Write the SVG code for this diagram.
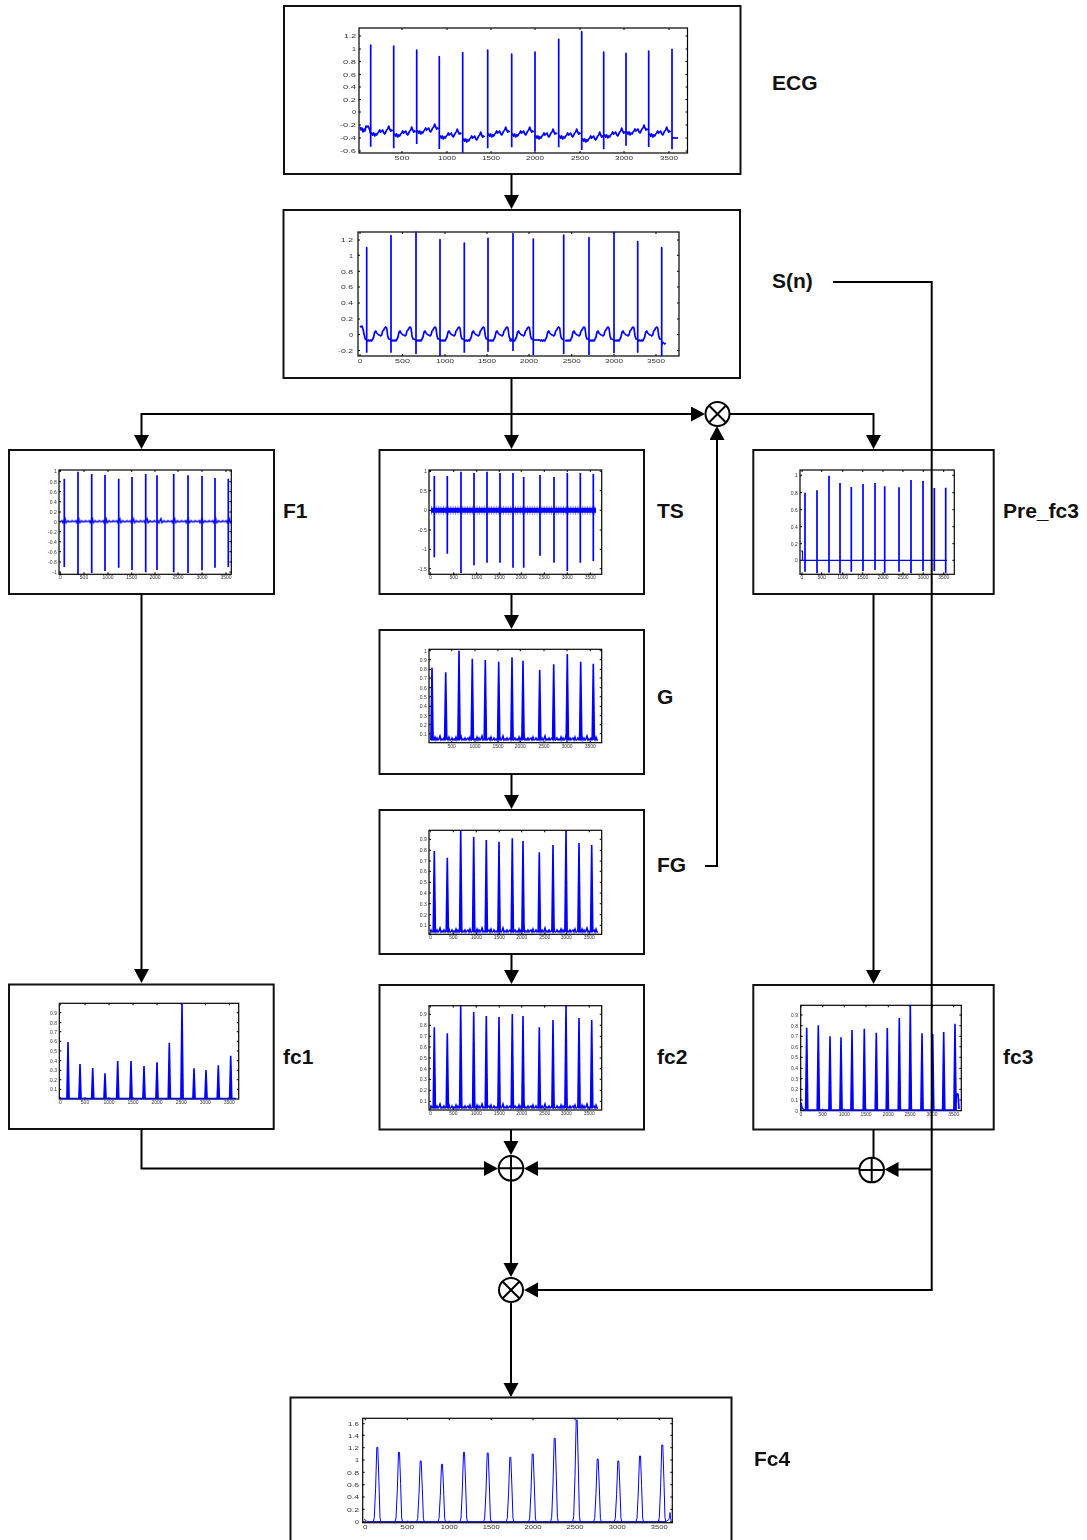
<svg xmlns="http://www.w3.org/2000/svg" width="1087" height="1540" viewBox="0 0 1087 1540">
<style>
text{font-family:"Liberation Sans",Arial,sans-serif}
.box{fill:#fff;stroke:#111;stroke-width:2}
.lab{font-size:21px;font-weight:bold;fill:#111}
.fr{fill:#fff;stroke:#000;stroke-width:1.2}
.tk{fill:none;stroke:#000;stroke-width:1}
.plot text{font-size:5px;fill:#333}
.big text{font-size:6px}
.y{text-anchor:end}
.x{text-anchor:middle}
.tr{fill:none;stroke:#00f;stroke-width:1.7;stroke-linejoin:round}
.th{stroke-width:.9}
.blue{fill:#00f}
.con{fill:none;stroke:#000;stroke-width:2}
.arr{marker-end:url(#ah)}
.sym{fill:#fff;stroke:#000;stroke-width:2}
</style>
<defs>
<filter id="soft" x="-5%" y="-5%" width="110%" height="110%"><feGaussianBlur stdDeviation="0.35"/></filter>
<marker id="ah" markerUnits="userSpaceOnUse" markerWidth="15" markerHeight="16" refX="10" refY="7.5" orient="auto"><path d="M0 0L14 7.5L0 15z" fill="#000"/></marker>
<path id="w1" d="M0 0l1-1 1 2 1-2 1 3 1-2 1 1 1-2 1-1 1-2 1 2 1-1 1-1 1 3 1 1 1-2 1-2 1-1 1-3 1 3 1 2 1-1 1 1"/>
<path id="w2" d="M0 0l1 1 1-1 1 1 1-1 1 1 1-2 1-2 1-5 1-1 1 2 1 1 1 1 1 0 1 1 1-1 1-4 1-1 1-2 1-1 1 1 1 8 1 3 1 0 1 1"/>
<path id="s" class="blue" d="M-1.900 0L-.8-1H.8L1.900 0z"/>
<path id="pk" fill="none" stroke="#00f" stroke-width="1" vector-effect="non-scaling-stroke" d="M-4 0L-3-.05-1.700-.45-.5-1H.5L1.600-.55 2.700-.05 3.500 0"/>
<pattern id="pF" patternUnits="userSpaceOnUse" width="13.700" height="10"><path d="M0 5l2-1 1 2 2-4 1 4 2-2 1 1 2 0 1-1 1.700 1" fill="none" stroke="#00f" stroke-width="1.500"/></pattern>
<pattern id="pN" patternUnits="userSpaceOnUse" width="21" height="8"><path d="M0 6l1-2 1 2 1-1 1 1 1-3 1 3 1-2 1 2 1-1 1-3 1 4 1-1 1 1 1-2 1 2 1-1 1-1 1 2 1-3 1 3 1 0" fill="none" stroke="#00f" stroke-width="1.500"/></pattern>
</defs>
<rect width="1087" height="1540" fill="#fff"/>

<g id="node-ecg">
<rect class="box" x="284" y="6" width="456.500" height="168"/>
<g class="plot big" filter="url(#soft)">
<rect class="fr" x="359" y="28" width="328.500" height="125"/>
<path class="tk" d="M359 36h2m324.500 0h2M359 49h2m324.500 0h2M359 61.500h2m324.500 0h2M359 74.500h2m324.500 0h2M359 87h2m324.500 0h2M359 99.500h2m324.500 0h2M359 112h2m324.500 0h2M359 125h2m324.500 0h2M359 138h2m324.500 0h2M359 151h2m324.500 0h2M402 28v2m0 121v2M447 28v2m0 121v2M491 28v2m0 121v2M535 28v2m0 121v2M580 28v2m0 121v2M624 28v2m0 121v2M669 28v2m0 121v2"/>
<path class="tr" d="M370.700 134V45V146.700M393.700 134V46V148.300M416.700 132V50V144M439.300 137V56.700V149M462.700 139V52.700V152.700M487.700 135V50V148.300M511.700 135V54V147.300M535 137V52V151M558.700 137V39.300V147.300M581.700 140V31.700V150M603.700 136V52V149.300M626 133V53.300V145.700M648.700 135V51V147M672 138V49.300V149.300"/>
<g class="tr">
<path d="M360 127l1 3 1-2 1 4 1-3 1 2 1-5 1 1 1-1 1 2 1 3 .700 3"/>
<use href="#w1" x="370.700" y="134"/><use href="#w1" x="393.700" y="135"/><use href="#w1" x="416.700" y="132"/><use href="#w1" x="439.300" y="137"/><use href="#w1" x="462.700" y="140"/><use href="#w1" x="487.700" y="135"/><use href="#w1" x="511.700" y="135"/><use href="#w1" x="535" y="137"/><use href="#w1" x="558.700" y="137"/><use href="#w1" x="581.700" y="140"/><use href="#w1" x="603.700" y="136"/><use href="#w1" x="626" y="133"/><use href="#w1" x="648.700" y="135"/>
<path d="M672 138H678"/>
</g>
<g class="y">
<text x="356" y="38.200" textLength="12" lengthAdjust="spacingAndGlyphs">1.2</text>
<text x="356" y="51.200" textLength="4" lengthAdjust="spacingAndGlyphs">1</text>
<text x="356" y="63.700" textLength="13" lengthAdjust="spacingAndGlyphs">0.8</text>
<text x="356" y="76.700" textLength="13" lengthAdjust="spacingAndGlyphs">0.6</text>
<text x="356" y="89.200" textLength="13" lengthAdjust="spacingAndGlyphs">0.4</text>
<text x="356" y="101.700" textLength="13" lengthAdjust="spacingAndGlyphs">0.2</text>
<text x="356" y="114.200" textLength="4" lengthAdjust="spacingAndGlyphs">0</text>
<text x="356" y="127.200" textLength="16" lengthAdjust="spacingAndGlyphs">-0.2</text>
<text x="356" y="140.200" textLength="16" lengthAdjust="spacingAndGlyphs">-0.4</text>
<text x="356" y="153.200" textLength="16" lengthAdjust="spacingAndGlyphs">-0.6</text>
</g>
<g class="x">
<text x="402" y="159.500" textLength="15" lengthAdjust="spacingAndGlyphs">500</text>
<text x="447" y="159.500" textLength="18" lengthAdjust="spacingAndGlyphs">1000</text>
<text x="491" y="159.500" textLength="18" lengthAdjust="spacingAndGlyphs">1500</text>
<text x="535" y="159.500" textLength="18" lengthAdjust="spacingAndGlyphs">2000</text>
<text x="580" y="159.500" textLength="18" lengthAdjust="spacingAndGlyphs">2500</text>
<text x="624" y="159.500" textLength="18" lengthAdjust="spacingAndGlyphs">3000</text>
<text x="669" y="159.500" textLength="18" lengthAdjust="spacingAndGlyphs">3500</text>
</g>
</g>
<text class="lab" x="772" y="90">ECG</text>
</g>

<g id="node-sn">
<rect class="box" x="283.500" y="210" width="456.500" height="168"/>
<g class="plot big" filter="url(#soft)">
<rect class="fr" x="358" y="232" width="321" height="124"/>
<path class="tk" d="M358 240h2m317 0h2M358 255.300h2m317 0h2M358 271.300h2m317 0h2M358 287h2m317 0h2M358 303h2m317 0h2M358 319h2m317 0h2M358 334.500h2m317 0h2M358 350.500h2m317 0h2M360 232v2m0 120v2M402.500 232v2m0 120v2M445 232v2m0 120v2M487 232v2m0 120v2M529 232v2m0 120v2M571.700 232v2m0 120v2M614 232v2m0 120v2M656 232v2m0 120v2"/>
<path class="tr" d="M366.700 340V247.700V352.700M391 340V235.700V352.700M416 340V232.300V354M440 340V239.700V356M464.300 340V243V352.700M488 340V238.300V351.700M513 340V233.700V351M533.300 340V239V355M563.700 340V235V354M589 340V237.700V355M614 340V232.300V353.300M637.700 340V241.700V352.700M661.700 340V247.700V356"/>
<g class="tr">
<path d="M360 326l1 1 1-1 1 3 1 5 1 4 .700 2"/>
<use href="#w2" x="366.700" y="340"/><use href="#w2" x="391" y="340"/><use href="#w2" x="416" y="340"/><use href="#w2" x="440" y="340"/><use href="#w2" x="464.300" y="340"/><use href="#w2" x="488" y="340"/><use href="#w2" x="509.500" y="340"/>
<path d="M533.300 340h7"/>
<use href="#w2" x="539.700" y="340"/><use href="#w2" x="565" y="340"/><use href="#w2" x="589" y="340"/><use href="#w2" x="614" y="340"/><use href="#w2" x="637.700" y="340"/>
<path d="M661.700 345l1-3 2 2 1-1"/>
</g>
<g class="y">
<text x="353" y="242.200" textLength="12" lengthAdjust="spacingAndGlyphs">1.2</text>
<text x="353" y="257.500" textLength="4" lengthAdjust="spacingAndGlyphs">1</text>
<text x="353" y="273.500" textLength="12" lengthAdjust="spacingAndGlyphs">0.8</text>
<text x="353" y="289.200" textLength="12" lengthAdjust="spacingAndGlyphs">0.6</text>
<text x="353" y="305.200" textLength="12" lengthAdjust="spacingAndGlyphs">0.4</text>
<text x="353" y="321.200" textLength="12" lengthAdjust="spacingAndGlyphs">0.2</text>
<text x="353" y="336.700" textLength="4" lengthAdjust="spacingAndGlyphs">0</text>
<text x="353" y="352.700" textLength="15" lengthAdjust="spacingAndGlyphs">-0.2</text>
</g>
<g class="x">
<text x="360" y="362.500" textLength="4.500" lengthAdjust="spacingAndGlyphs">0</text>
<text x="402.500" y="362.500" textLength="15" lengthAdjust="spacingAndGlyphs">500</text>
<text x="445" y="362.500" textLength="18" lengthAdjust="spacingAndGlyphs">1000</text>
<text x="487" y="362.500" textLength="18" lengthAdjust="spacingAndGlyphs">1500</text>
<text x="529" y="362.500" textLength="18" lengthAdjust="spacingAndGlyphs">2000</text>
<text x="571.700" y="362.500" textLength="18" lengthAdjust="spacingAndGlyphs">2500</text>
<text x="614" y="362.500" textLength="18" lengthAdjust="spacingAndGlyphs">3000</text>
<text x="656" y="362.500" textLength="18" lengthAdjust="spacingAndGlyphs">3500</text>
</g>
</g>
<text class="lab" x="772" y="288">S(n)</text>
</g>

<g id="node-f1">
<rect class="box" x="9" y="450" width="265" height="144"/>
<g class="plot" filter="url(#soft)">
<rect class="fr" x="59" y="470" width="172.300" height="104.300"/>
<path class="tk" d="M59 471h2m168.300 0h2M59 481.700h2m168.300 0h2M59 491.700h2m168.300 0h2M59 501.700h2m168.300 0h2M59 512h2m168.300 0h2M59 521.700h2m168.300 0h2M59 531.700h2m168.300 0h2M59 541.700h2m168.300 0h2M59 551.700h2m168.300 0h2M59 562h2m168.300 0h2M59 572h2m168.300 0h2M60.300 470v2m0 100.300v2M84 470v2m0 100.300v2M108 470v2m0 100.300v2M131.700 470v2m0 100.300v2M155 470v2m0 100.300v2M178 470v2m0 100.300v2M202 470v2m0 100.300v2M226 470v2m0 100.300v2"/>
<rect transform="translate(60 516.700)" width="171" height="10" fill="url(#pF)"/>
<path class="tr" d="M64.300 478.700V567M78 471.700V574.300M91.700 474V573M105 475V571M118.700 478.700V567.700M132 477V570M145.700 474V572.300M157 475.300V570M173.700 474V572.300M188 475.300V573M202 476V570.300M215 478V567.700M228.300 478.700V567"/>
<g class="y">
<text x="56.700" y="472.800">1</text><text x="56.700" y="483.500">0.8</text><text x="56.700" y="493.500">0.6</text><text x="56.700" y="503.500">0.4</text><text x="56.700" y="513.800">0.2</text><text x="56.700" y="523.500">0</text><text x="56.700" y="533.500">-0.2</text><text x="56.700" y="543.500">-0.4</text><text x="56.700" y="553.500">-0.6</text><text x="56.700" y="563.800">-0.8</text><text x="56.700" y="573.800">-1</text>
</g>
<g class="x">
<text x="60.300" y="579">0</text><text x="84" y="579">500</text><text x="108" y="579">1000</text><text x="131.700" y="579">1500</text><text x="155" y="579">2000</text><text x="178" y="579">2500</text><text x="202" y="579">3000</text><text x="226" y="579">3500</text>
</g>
</g>
<text class="lab" x="283" y="518">F1</text>
</g>

<g id="node-ts">
<rect class="box" x="379.500" y="450" width="264.500" height="144"/>
<g class="plot" filter="url(#soft)">
<rect class="fr" x="429" y="470" width="172.700" height="104.300"/>
<path class="tk" d="M429 471.300h2m168.700 0h2M429 490.700h2m168.700 0h2M429 510.300h2m168.700 0h2M429 530h2m168.700 0h2M429 549.300h2m168.700 0h2M429 568.700h2m168.700 0h2M430.300 470v2m0 100.300v2M453.700 470v2m0 100.300v2M476.700 470v2m0 100.300v2M499.300 470v2m0 100.300v2M521.300 470v2m0 100.300v2M544.300 470v2m0 100.300v2M567.300 470v2m0 100.300v2M590.300 470v2m0 100.300v2"/>
<path d="M431 510.300H596" fill="none" stroke="#00f" stroke-width="5"/>
<path d="M431 510.300H596" fill="none" stroke="#00f" stroke-width="9" stroke-dasharray="1 1.400" opacity=".45"/>
<path class="tr" d="M434.300 476V557.300M447.300 476V553.700M461 471.700V573M474 473V565.300M487 471.700V562.700M500 473V562.700M513 473V567.700M523.700 477V567.700M540 475V555.700M554 477V562.700M567.300 473V571M580.300 473V562.700M593.300 474V561"/>
<g class="y">
<text x="426.700" y="473.100">1</text><text x="426.700" y="492.500">0.5</text><text x="426.700" y="512.100">0</text><text x="426.700" y="531.800">-0.5</text><text x="426.700" y="551.100">-1</text><text x="426.700" y="570.500">-1.5</text>
</g>
<g class="x">
<text x="430.300" y="579">0</text><text x="453.700" y="579">500</text><text x="476.700" y="579">1000</text><text x="499.300" y="579">1500</text><text x="521.300" y="579">2000</text><text x="544.300" y="579">2500</text><text x="567.300" y="579">3000</text><text x="590.300" y="579">3500</text>
</g>
</g>
<text class="lab" x="657" y="518">TS</text>
</g>

<g id="node-pre-fc3">
<rect class="box" x="753.300" y="450" width="240.400" height="144"/>
<g class="plot" filter="url(#soft)">
<rect class="fr" x="800" y="470" width="154.300" height="104.300"/>
<path class="tk" d="M800 475.300h2m150.300 0h2M800 492.700h2m150.300 0h2M800 509.700h2m150.300 0h2M800 526.700h2m150.300 0h2M800 543.700h2m150.300 0h2M800 560.300h2m150.300 0h2M802 470v2m0 100.300v2M821.700 470v2m0 100.300v2M842.700 470v2m0 100.300v2M862.700 470v2m0 100.300v2M883 470v2m0 100.300v2M903 470v2m0 100.300v2M923.300 470v2m0 100.300v2M943.700 470v2m0 100.300v2"/>
<path class="tr" stroke-width="1.200" style="stroke-width:1.200" d="M801 551H802.500V560.300H947"/>
<path class="tr" d="M805 492.700V571.700M817 490.300V573.300M829 475.700V572.700M840 483V573.300M851.300 487V571.700M863 484V571M875 483V570M884.700 486.300V572.700M899 487.300V571.700M911 480V573.300M923 481V571M934.300 488V571M945.700 487.700V573.300"/>
<g class="y">
<text x="797.700" y="477.100">1</text><text x="797.700" y="494.500">0.8</text><text x="797.700" y="511.500">0.6</text><text x="797.700" y="528.500">0.4</text><text x="797.700" y="545.500">0.2</text><text x="797.700" y="562.100">0</text>
</g>
<g class="x">
<text x="802" y="579">0</text><text x="821.700" y="579">500</text><text x="842.700" y="579">1000</text><text x="862.700" y="579">1500</text><text x="883" y="579">2000</text><text x="903" y="579">2500</text><text x="923.300" y="579">3000</text><text x="943.700" y="579">3500</text>
</g>
</g>
<text class="lab" x="1003" y="518">Pre_fc3</text>
</g>

<g id="node-g">
<rect class="box" x="379.500" y="630" width="264.500" height="144"/>
<g class="plot" filter="url(#soft)">
<rect class="fr" x="429" y="649.300" width="172.700" height="93.400"/>
<path class="tk" d="M429 650.700h2m168.700 0h2M429 659.700h2m168.700 0h2M429 669.300h2m168.700 0h2M429 678h2m168.700 0h2M429 687.700h2m168.700 0h2M429 696.700h2m168.700 0h2M429 706.300h2m168.700 0h2M429 715.700h2m168.700 0h2M429 724.700h2m168.700 0h2M429 733.700h2m168.700 0h2M451.700 649.300v2m0 89.400v2M475 649.300v2m0 89.400v2M498 649.300v2m0 89.400v2M520.300 649.300v2m0 89.400v2M544 649.300v2m0 89.400v2M567 649.300v2m0 89.400v2M590.300 649.300v2m0 89.400v2"/>
<rect transform="translate(430 734)" width="168" height="8" fill="url(#pN)"/>
<use href="#s" transform="matrix(1 0 0 71.800 432 739.500)"/><use href="#s" transform="matrix(1 0 0 67.200 445.700 739.500)"/><use href="#s" transform="matrix(1 0 0 88.800 459 739.500)"/><use href="#s" transform="matrix(1 0 0 80.800 472.300 739.500)"/><use href="#s" transform="matrix(1 0 0 79.500 485.300 739.500)"/><use href="#s" transform="matrix(1 0 0 77.800 498.700 739.500)"/><use href="#s" transform="matrix(1 0 0 82.200 512 739.500)"/><use href="#s" transform="matrix(1 0 0 78.800 523 739.500)"/><use href="#s" transform="matrix(1 0 0 69.500 539.700 739.500)"/><use href="#s" transform="matrix(1 0 0 75.200 553.700 739.500)"/><use href="#s" transform="matrix(1 0 0 85.500 567.300 739.500)"/><use href="#s" transform="matrix(1 0 0 77.800 580.700 739.500)"/><use href="#s" transform="matrix(1 0 0 75.800 593.300 739.500)"/>
<g class="y">
<text x="426.700" y="652.500">1</text><text x="426.700" y="661.500">0.9</text><text x="426.700" y="671.100">0.8</text><text x="426.700" y="679.800">0.7</text><text x="426.700" y="689.500">0.6</text><text x="426.700" y="698.500">0.5</text><text x="426.700" y="708.100">0.4</text><text x="426.700" y="717.500">0.3</text><text x="426.700" y="726.500">0.2</text><text x="426.700" y="735.500">0.1</text>
</g>
<g class="x">
<text x="451.700" y="747.800">500</text><text x="475" y="747.800">1000</text><text x="498" y="747.800">1500</text><text x="520.300" y="747.800">2000</text><text x="544" y="747.800">2500</text><text x="567" y="747.800">3000</text><text x="590.300" y="747.800">3500</text>
</g>
</g>
<text class="lab" x="657" y="704">G</text>
</g>

<g id="node-fg">
<rect class="box" x="379.500" y="810" width="264.500" height="144"/>
<g class="plot" filter="url(#soft)">
<rect class="fr" x="429" y="830.300" width="172.700" height="104"/>
<path class="tk" d="M429 839.300h2m168.700 0h2M429 850.300h2m168.700 0h2M429 861h2m168.700 0h2M429 871.300h2m168.700 0h2M429 882.300h2m168.700 0h2M429 893h2m168.700 0h2M429 903.700h2m168.700 0h2M429 914.700h2m168.700 0h2M429 925.300h2m168.700 0h2M430.300 830.300v2m0 100v2M453.300 830.300v2m0 100v2M476.300 830.300v2m0 100v2M499.300 830.300v2m0 100v2M521.700 830.300v2m0 100v2M544.700 830.300v2m0 100v2M566.300 830.300v2m0 100v2M589.300 830.300v2m0 100v2"/>
<rect transform="translate(430 926)" width="168" height="8" fill="url(#pN)"/>
<use href="#s" transform="matrix(1 0 0 81 434.300 932)"/><use href="#s" transform="matrix(1 0 0 74.300 447.300 932)"/><use href="#s" transform="matrix(1 0 0 101.700 460.700 932)"/><use href="#s" transform="matrix(1 0 0 95 473.700 932)"/><use href="#s" transform="matrix(1 0 0 92 486.300 932)"/><use href="#s" transform="matrix(1 0 0 90.300 499 932)"/><use href="#s" transform="matrix(1 0 0 93.700 512.300 932)"/><use href="#s" transform="matrix(1 0 0 91 523 932)"/><use href="#s" transform="matrix(1 0 0 79.700 539.300 932)"/><use href="#s" transform="matrix(1 0 0 87 553 932)"/><use href="#s" transform="matrix(1 0 0 101 566 932)"/><use href="#s" transform="matrix(1 0 0 89 579 932)"/><use href="#s" transform="matrix(1 0 0 87 591.700 932)"/>
<g class="y">
<text x="426.700" y="841.100">0.9</text><text x="426.700" y="852.100">0.8</text><text x="426.700" y="862.800">0.7</text><text x="426.700" y="873.100">0.6</text><text x="426.700" y="884.100">0.5</text><text x="426.700" y="894.800">0.4</text><text x="426.700" y="905.500">0.3</text><text x="426.700" y="916.500">0.2</text><text x="426.700" y="927.100">0.1</text>
</g>
<g class="x">
<text x="430.300" y="939">0</text><text x="453.300" y="939">500</text><text x="476.300" y="939">1000</text><text x="499.300" y="939">1500</text><text x="521.700" y="939">2000</text><text x="544.700" y="939">2500</text><text x="566.300" y="939">3000</text><text x="589.300" y="939">3500</text>
</g>
</g>
<text class="lab" x="657" y="872">FG</text>
</g>

<g id="node-fc1">
<rect class="box" x="9" y="984.500" width="264.700" height="144.500"/>
<g class="plot" filter="url(#soft)">
<rect class="fr" x="59.300" y="1003.300" width="179.400" height="95.700"/>
<path class="tk" d="M59.300 1012.700h2m175.400 0h2M59.300 1022.700h2m175.400 0h2M59.300 1031.700h2m175.400 0h2M59.300 1041.300h2m175.400 0h2M59.300 1051h2m175.400 0h2M59.300 1060.700h2m175.400 0h2M59.300 1070.300h2m175.400 0h2M59.300 1079.700h2m175.400 0h2M59.300 1089.300h2m175.400 0h2M60.300 1003.300v2m0 91.700v2M85 1003.300v2m0 91.700v2M109 1003.300v2m0 91.700v2M133 1003.300v2m0 91.700v2M157 1003.300v2m0 91.700v2M181.300 1003.300v2m0 91.700v2M205.300 1003.300v2m0 91.700v2M229.300 1003.300v2m0 91.700v2"/>
<path class="tr" d="M60 1098.500H236"/>
<use href="#s" transform="matrix(1 0 0 57 68 1099)"/><use href="#s" transform="matrix(1 0 0 35 80 1099)"/><use href="#s" transform="matrix(1 0 0 31 92.700 1099)"/><use href="#s" transform="matrix(1 0 0 25.700 105 1099)"/><use href="#s" transform="matrix(1 0 0 38 117.700 1099)"/><use href="#s" transform="matrix(1 0 0 38 131 1099)"/><use href="#s" transform="matrix(1 0 0 33 144 1099)"/><use href="#s" transform="matrix(1 0 0 36.700 157 1099)"/><use href="#s" transform="matrix(1 0 0 56.300 169.300 1099)"/><use href="#s" transform="matrix(1 0 0 95.700 182 1099)"/><use href="#s" transform="matrix(1 0 0 30.700 194 1099)"/><use href="#s" transform="matrix(1 0 0 29 206 1099)"/><use href="#s" transform="matrix(1 0 0 33.700 218.300 1099)"/><use href="#s" transform="matrix(1 0 0 43.300 230.700 1099)"/>
<g class="y">
<text x="57" y="1014.500">0.9</text><text x="57" y="1024.500">0.8</text><text x="57" y="1033.500">0.7</text><text x="57" y="1043.100">0.6</text><text x="57" y="1052.800">0.5</text><text x="57" y="1062.500">0.4</text><text x="57" y="1072.100">0.3</text><text x="57" y="1081.500">0.2</text><text x="57" y="1091.100">0.1</text>
</g>
<g class="x">
<text x="60.300" y="1104">0</text><text x="85" y="1104">500</text><text x="109" y="1104">1000</text><text x="133" y="1104">1500</text><text x="157" y="1104">2000</text><text x="181.300" y="1104">2500</text><text x="205.300" y="1104">3000</text><text x="229.300" y="1104">3500</text>
</g>
</g>
<text class="lab" x="283" y="1064">fc1</text>
</g>

<g id="node-fc2">
<rect class="box" x="379.500" y="985" width="264.500" height="144.500"/>
<g class="plot" filter="url(#soft)">
<rect class="fr" x="429" y="1005.700" width="172.700" height="104.300"/>
<path class="tk" d="M429 1014.300h2m168.700 0h2M429 1025.300h2m168.700 0h2M429 1036.300h2m168.700 0h2M429 1047h2m168.700 0h2M429 1058h2m168.700 0h2M429 1068.700h2m168.700 0h2M429 1079.300h2m168.700 0h2M429 1090.300h2m168.700 0h2M429 1101.300h2m168.700 0h2M430.300 1005.700v2m0 100.300v2M453.300 1005.700v2m0 100.300v2M476.300 1005.700v2m0 100.300v2M499.300 1005.700v2m0 100.300v2M521.700 1005.700v2m0 100.300v2M544.700 1005.700v2m0 100.300v2M566.300 1005.700v2m0 100.300v2M589.300 1005.700v2m0 100.300v2"/>
<rect transform="translate(430 1102)" width="168" height="8" fill="url(#pN)"/>
<use href="#s" transform="matrix(1 0 0 80.700 434.300 1108)"/><use href="#s" transform="matrix(1 0 0 74.700 447.300 1108)"/><use href="#s" transform="matrix(1 0 0 102.300 460.700 1108)"/><use href="#s" transform="matrix(1 0 0 96 473.700 1108)"/><use href="#s" transform="matrix(1 0 0 92 486.300 1108)"/><use href="#s" transform="matrix(1 0 0 91 499 1108)"/><use href="#s" transform="matrix(1 0 0 94 512.300 1108)"/><use href="#s" transform="matrix(1 0 0 92 523 1108)"/><use href="#s" transform="matrix(1 0 0 80.700 539.300 1108)"/><use href="#s" transform="matrix(1 0 0 88 553 1108)"/><use href="#s" transform="matrix(1 0 0 102 566 1108)"/><use href="#s" transform="matrix(1 0 0 90 579 1108)"/><use href="#s" transform="matrix(1 0 0 88 591.700 1108)"/>
<g class="y">
<text x="426.700" y="1016.100">0.9</text><text x="426.700" y="1027.100">0.8</text><text x="426.700" y="1038.100">0.7</text><text x="426.700" y="1048.800">0.6</text><text x="426.700" y="1059.800">0.5</text><text x="426.700" y="1070.500">0.4</text><text x="426.700" y="1081.100">0.3</text><text x="426.700" y="1092.100">0.2</text><text x="426.700" y="1103.100">0.1</text>
</g>
<g class="x">
<text x="430.300" y="1114.500">0</text><text x="453.300" y="1114.500">500</text><text x="476.300" y="1114.500">1000</text><text x="499.300" y="1114.500">1500</text><text x="521.700" y="1114.500">2000</text><text x="544.700" y="1114.500">2500</text><text x="566.300" y="1114.500">3000</text><text x="589.300" y="1114.500">3500</text>
</g>
</g>
<text class="lab" x="657" y="1064">fc2</text>
</g>

<g id="node-fc3">
<rect class="box" x="753.300" y="985" width="240.400" height="144.500"/>
<g class="plot" filter="url(#soft)">
<rect class="fr" x="800.700" y="1005.300" width="160.600" height="105.400"/>
<path class="tk" d="M800.700 1015h2m156.600 0h2M800.700 1025.700h2m156.600 0h2M800.700 1036.300h2m156.600 0h2M800.700 1046.700h2m156.600 0h2M800.700 1057.300h2m156.600 0h2M800.700 1068.300h2m156.600 0h2M800.700 1078.700h2m156.600 0h2M800.700 1089.300h2m156.600 0h2M800.700 1100h2m156.600 0h2M801 1005.300v2m0 101.400v2M822.700 1005.300v2m0 101.400v2M844.300 1005.300v2m0 101.400v2M866 1005.300v2m0 101.400v2M888.300 1005.300v2m0 101.400v2M910 1005.300v2m0 101.400v2M932 1005.300v2m0 101.400v2M953.700 1005.300v2m0 101.400v2"/>
<path class="tr" d="M801 1103l1 5 2 2H955l1.500-16 1.500 0 1 15"/>
<use href="#s" transform="matrix(1 0 0 82.800 806.700 1110.500)"/><use href="#s" transform="matrix(1 0 0 85.200 818.300 1110.500)"/><use href="#s" transform="matrix(1 0 0 74.200 830 1110.500)"/><use href="#s" transform="matrix(1 0 0 73.200 841 1110.500)"/><use href="#s" transform="matrix(1 0 0 80.500 852 1110.500)"/><use href="#s" transform="matrix(1 0 0 81.800 864.300 1110.500)"/><use href="#s" transform="matrix(1 0 0 77.800 876.300 1110.500)"/><use href="#s" transform="matrix(1 0 0 82.500 887.300 1110.500)"/><use href="#s" transform="matrix(1 0 0 92.500 899.300 1110.500)"/><use href="#s" transform="matrix(1 0 0 105.200 910.300 1110.500)"/><use href="#s" transform="matrix(1 0 0 77.200 922 1110.500)"/><use href="#s" transform="matrix(1 0 0 76.500 932.700 1110.500)"/><use href="#s" transform="matrix(1 0 0 78.500 943.700 1110.500)"/><use href="#s" transform="matrix(1 0 0 86.800 955 1110.500)"/>
<g class="y">
<text x="798" y="1016.800">0.9</text><text x="798" y="1027.500">0.8</text><text x="798" y="1038.100">0.7</text><text x="798" y="1048.500">0.6</text><text x="798" y="1059.100">0.5</text><text x="798" y="1070.100">0.4</text><text x="798" y="1080.500">0.3</text><text x="798" y="1091.100">0.2</text><text x="798" y="1101.800">0.1</text><text x="798" y="1112.500">0</text>
</g>
<g class="x">
<text x="801" y="1116">0</text><text x="822.700" y="1116">500</text><text x="844.300" y="1116">1000</text><text x="866" y="1116">1500</text><text x="888.300" y="1116">2000</text><text x="910" y="1116">2500</text><text x="932" y="1116">3000</text><text x="953.700" y="1116">3500</text>
</g>
</g>
<text class="lab" x="1003" y="1064">fc3</text>
</g>

<g id="node-fc4">
<rect class="box" x="290.500" y="1397.500" width="441" height="170"/>
<g class="plot big" filter="url(#soft)">
<rect class="fr" x="362.700" y="1418.300" width="309.600" height="104.400"/>
<path class="tk" d="M362.700 1423.700h2m305.600 0h2M362.700 1435.300h2m305.600 0h2M362.700 1447.700h2m305.600 0h2M362.700 1460h2m305.600 0h2M362.700 1472.300h2m305.600 0h2M362.700 1484.700h2m305.600 0h2M362.700 1497h2m305.600 0h2M362.700 1509.300h2m305.600 0h2M362.700 1521.700h2m305.600 0h2M365.300 1418.300v2m0 100.400v2M407.300 1418.300v2m0 100.400v2M449.300 1418.300v2m0 100.400v2M491.300 1418.300v2m0 100.400v2M533 1418.300v2m0 100.400v2M575 1418.300v2m0 100.400v2M617.300 1418.300v2m0 100.400v2M659.300 1418.300v2m0 100.400v2"/>
<path class="tr th" d="M364 1519l3 2.500H666l3-2 1-7 1 9"/>
<use href="#pk" transform="matrix(1 0 0 74.200 377.300 1521.500)"/><use href="#pk" transform="matrix(1 0 0 69.200 399 1521.500)"/><use href="#pk" transform="matrix(1 0 0 60.500 420.700 1521.500)"/><use href="#pk" transform="matrix(1 0 0 57.200 442 1521.500)"/><use href="#pk" transform="matrix(1 0 0 69.200 464 1521.500)"/><use href="#pk" transform="matrix(1 0 0 68.500 487.700 1521.500)"/><use href="#pk" transform="matrix(1 0 0 64.200 510.300 1521.500)"/><use href="#pk" transform="matrix(1 0 0 67.500 532.700 1521.500)"/><use href="#pk" transform="matrix(1 0 0 83.200 554.700 1521.500)"/><use href="#pk" transform="matrix(1 0 0 101.500 576.700 1521.500)"/><use href="#pk" transform="matrix(1 0 0 62.500 597.700 1521.500)"/><use href="#pk" transform="matrix(1 0 0 60.500 618.300 1521.500)"/><use href="#pk" transform="matrix(1 0 0 65.500 640 1521.500)"/><use href="#pk" transform="matrix(1 0 0 76.500 662.300 1521.500)"/>
<g class="y">
<text x="359" y="1425.900" textLength="11" lengthAdjust="spacingAndGlyphs">1.6</text>
<text x="359" y="1437.500" textLength="11" lengthAdjust="spacingAndGlyphs">1.4</text>
<text x="359" y="1449.900" textLength="11" lengthAdjust="spacingAndGlyphs">1.2</text>
<text x="359" y="1462.200" textLength="4" lengthAdjust="spacingAndGlyphs">1</text>
<text x="359" y="1474.500" textLength="12" lengthAdjust="spacingAndGlyphs">0.8</text>
<text x="359" y="1486.900" textLength="12" lengthAdjust="spacingAndGlyphs">0.6</text>
<text x="359" y="1499.200" textLength="12" lengthAdjust="spacingAndGlyphs">0.4</text>
<text x="359" y="1511.500" textLength="12" lengthAdjust="spacingAndGlyphs">0.2</text>
<text x="359" y="1523.900" textLength="4" lengthAdjust="spacingAndGlyphs">0</text>
</g>
<g class="x">
<text x="365.300" y="1528.700" textLength="4.500" lengthAdjust="spacingAndGlyphs">0</text>
<text x="407.300" y="1528.700" textLength="14" lengthAdjust="spacingAndGlyphs">500</text>
<text x="449.300" y="1528.700" textLength="17" lengthAdjust="spacingAndGlyphs">1000</text>
<text x="491.300" y="1528.700" textLength="17" lengthAdjust="spacingAndGlyphs">1500</text>
<text x="533" y="1528.700" textLength="17" lengthAdjust="spacingAndGlyphs">2000</text>
<text x="575" y="1528.700" textLength="17" lengthAdjust="spacingAndGlyphs">2500</text>
<text x="617.300" y="1528.700" textLength="17" lengthAdjust="spacingAndGlyphs">3000</text>
<text x="659.300" y="1528.700" textLength="17" lengthAdjust="spacingAndGlyphs">3500</text>
</g>
</g>
<text class="lab" x="754" y="1466">Fc4</text>
</g>

<g id="connectors">
<path class="con arr" d="M511.500 174V205"/>
<path class="con arr" d="M511.500 378V445"/>
<path class="con arr" d="M511.500 414H141.500V445"/>
<path class="con arr" d="M511.500 414H701"/>
<path class="con arr" d="M729.500 414H873.500V445"/>
<path class="con arr" d="M705 866H717V430"/>
<path class="con arr" d="M141.500 594V979"/>
<path class="con arr" d="M511.500 594V625"/>
<path class="con arr" d="M511.500 774V805"/>
<path class="con arr" d="M511.500 954V980"/>
<path class="con arr" d="M873.500 594V980"/>
<path class="con arr" d="M833 282H931.700V1290H528"/>
<path class="con arr" d="M931.700 1169.500H888.500"/>
<path class="con" d="M873.500 1129.500V1158"/>
<path class="con arr" d="M859.500 1168.500H528"/>
<path class="con arr" d="M141.500 1129V1168.500H494"/>
<path class="con arr" d="M511 1129.500V1151"/>
<path class="con arr" d="M511 1180.500V1273"/>
<path class="con arr" d="M511 1302V1393"/>
</g>

<g id="sum-top"><circle class="sym" cx="717.500" cy="414" r="12"/><path class="con" d="M709 405.500L726 422.500M726 405.500L709 422.500"/></g>
<g id="add-center"><circle class="sym" cx="511" cy="1168.300" r="12.300"/><path class="con" d="M498.700 1168.300H523.300M511 1156V1180.600"/></g>
<g id="add-right"><circle class="sym" cx="871.700" cy="1170" r="12.300"/><path class="con" d="M859.400 1170H884M871.700 1157.700V1182.300"/></g>
<g id="mul-bottom"><circle class="sym" cx="511" cy="1290" r="12"/><path class="con" d="M502.500 1281.500L519.500 1298.500M519.500 1281.500L502.500 1298.500"/></g>
</svg>
